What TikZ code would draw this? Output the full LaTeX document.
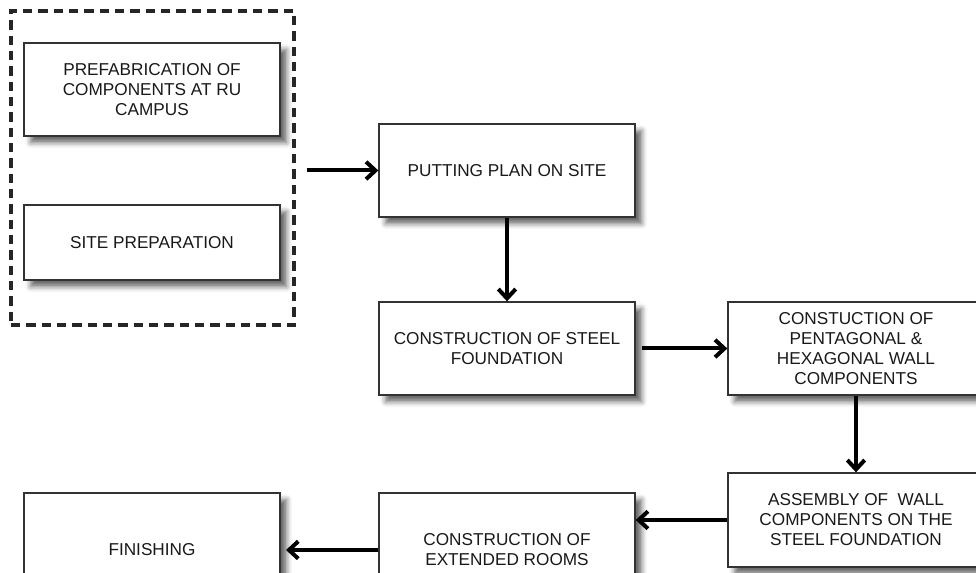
\documentclass[tikz,border=0pt]{standalone}
\usepackage{fontspec}
\setmainfont{Liberation Sans}
\usetikzlibrary{arrows.meta,shadows.blur}
\tikzset{>={Straight Barb[length=7pt,width=13pt]}}
\tikzset{stage/.style={draw=black!80, line width=1pt, fill=white, align=center,
    minimum width=192pt, minimum height=69.75pt, inner sep=2pt,
    font=\fontsize{12.9}{15}\selectfont, text=black!90,
    blur shadow={shadow xshift=5pt, shadow yshift=-5pt, shadow blur radius=4pt, shadow opacity=60}}}
\tikzset{flow/.style={->, line width=3pt}}
\tikzset{group/.style={draw=black!85, line width=2.8pt, dash pattern=on 7pt off 4.5pt}}

\begin{document}
\begin{tikzpicture}[x=0.75pt,y=-0.75pt]
      \useasboundingbox (0,0) rectangle (976,573);
      \clip (0,0) rectangle (976,573);
      \node[group, minimum width=212.25pt, minimum height=235.5pt] (grp) at (152.5,168) {};
      \node[stage] (prefab) at (152,89.5) {PREFABRICATION OF\\COMPONENTS AT RU\\CAMPUS};
      \node[stage, minimum height=56.25pt] (siteprep) at (152,242.5) {SITE PREPARATION};
      \node[stage] (putting) at (507,170.5) {PUTTING PLAN ON SITE};
      \node[stage] (steel) at (507,348.5) {CONSTRUCTION OF STEEL\\FOUNDATION};
      \node[stage] (penta) at (856,348.5) {CONSTUCTION OF\\PENTAGONAL \&\\HEXAGONAL WALL\\COMPONENTS};
      \node[stage, minimum height=70.5pt] (assembly) at (856,520) {ASSEMBLY OF\ \ WALL\\COMPONENTS ON THE\\STEEL FOUNDATION};
      \node[stage, minimum height=85.5pt] (extended) at (507,550) {CONSTRUCTION OF\\EXTENDED ROOMS};
      \node[stage, minimum height=85.5pt] (finishing) at (152,550) {FINISHING};
      % flow of the work
      \draw[flow, shorten <=8pt] (grp.east |- putting.west) -- (putting.west);
      \draw[flow] (putting) -- (steel);
      \draw[flow, shorten <=5pt] (steel) -- (penta);
      \draw[flow] (penta) -- (assembly);
      \draw[flow] (assembly.west) -- (assembly.west -| extended.east);
      \draw[flow, shorten >=4pt] (extended) -- (finishing);
    \end{tikzpicture}
\end{document}
